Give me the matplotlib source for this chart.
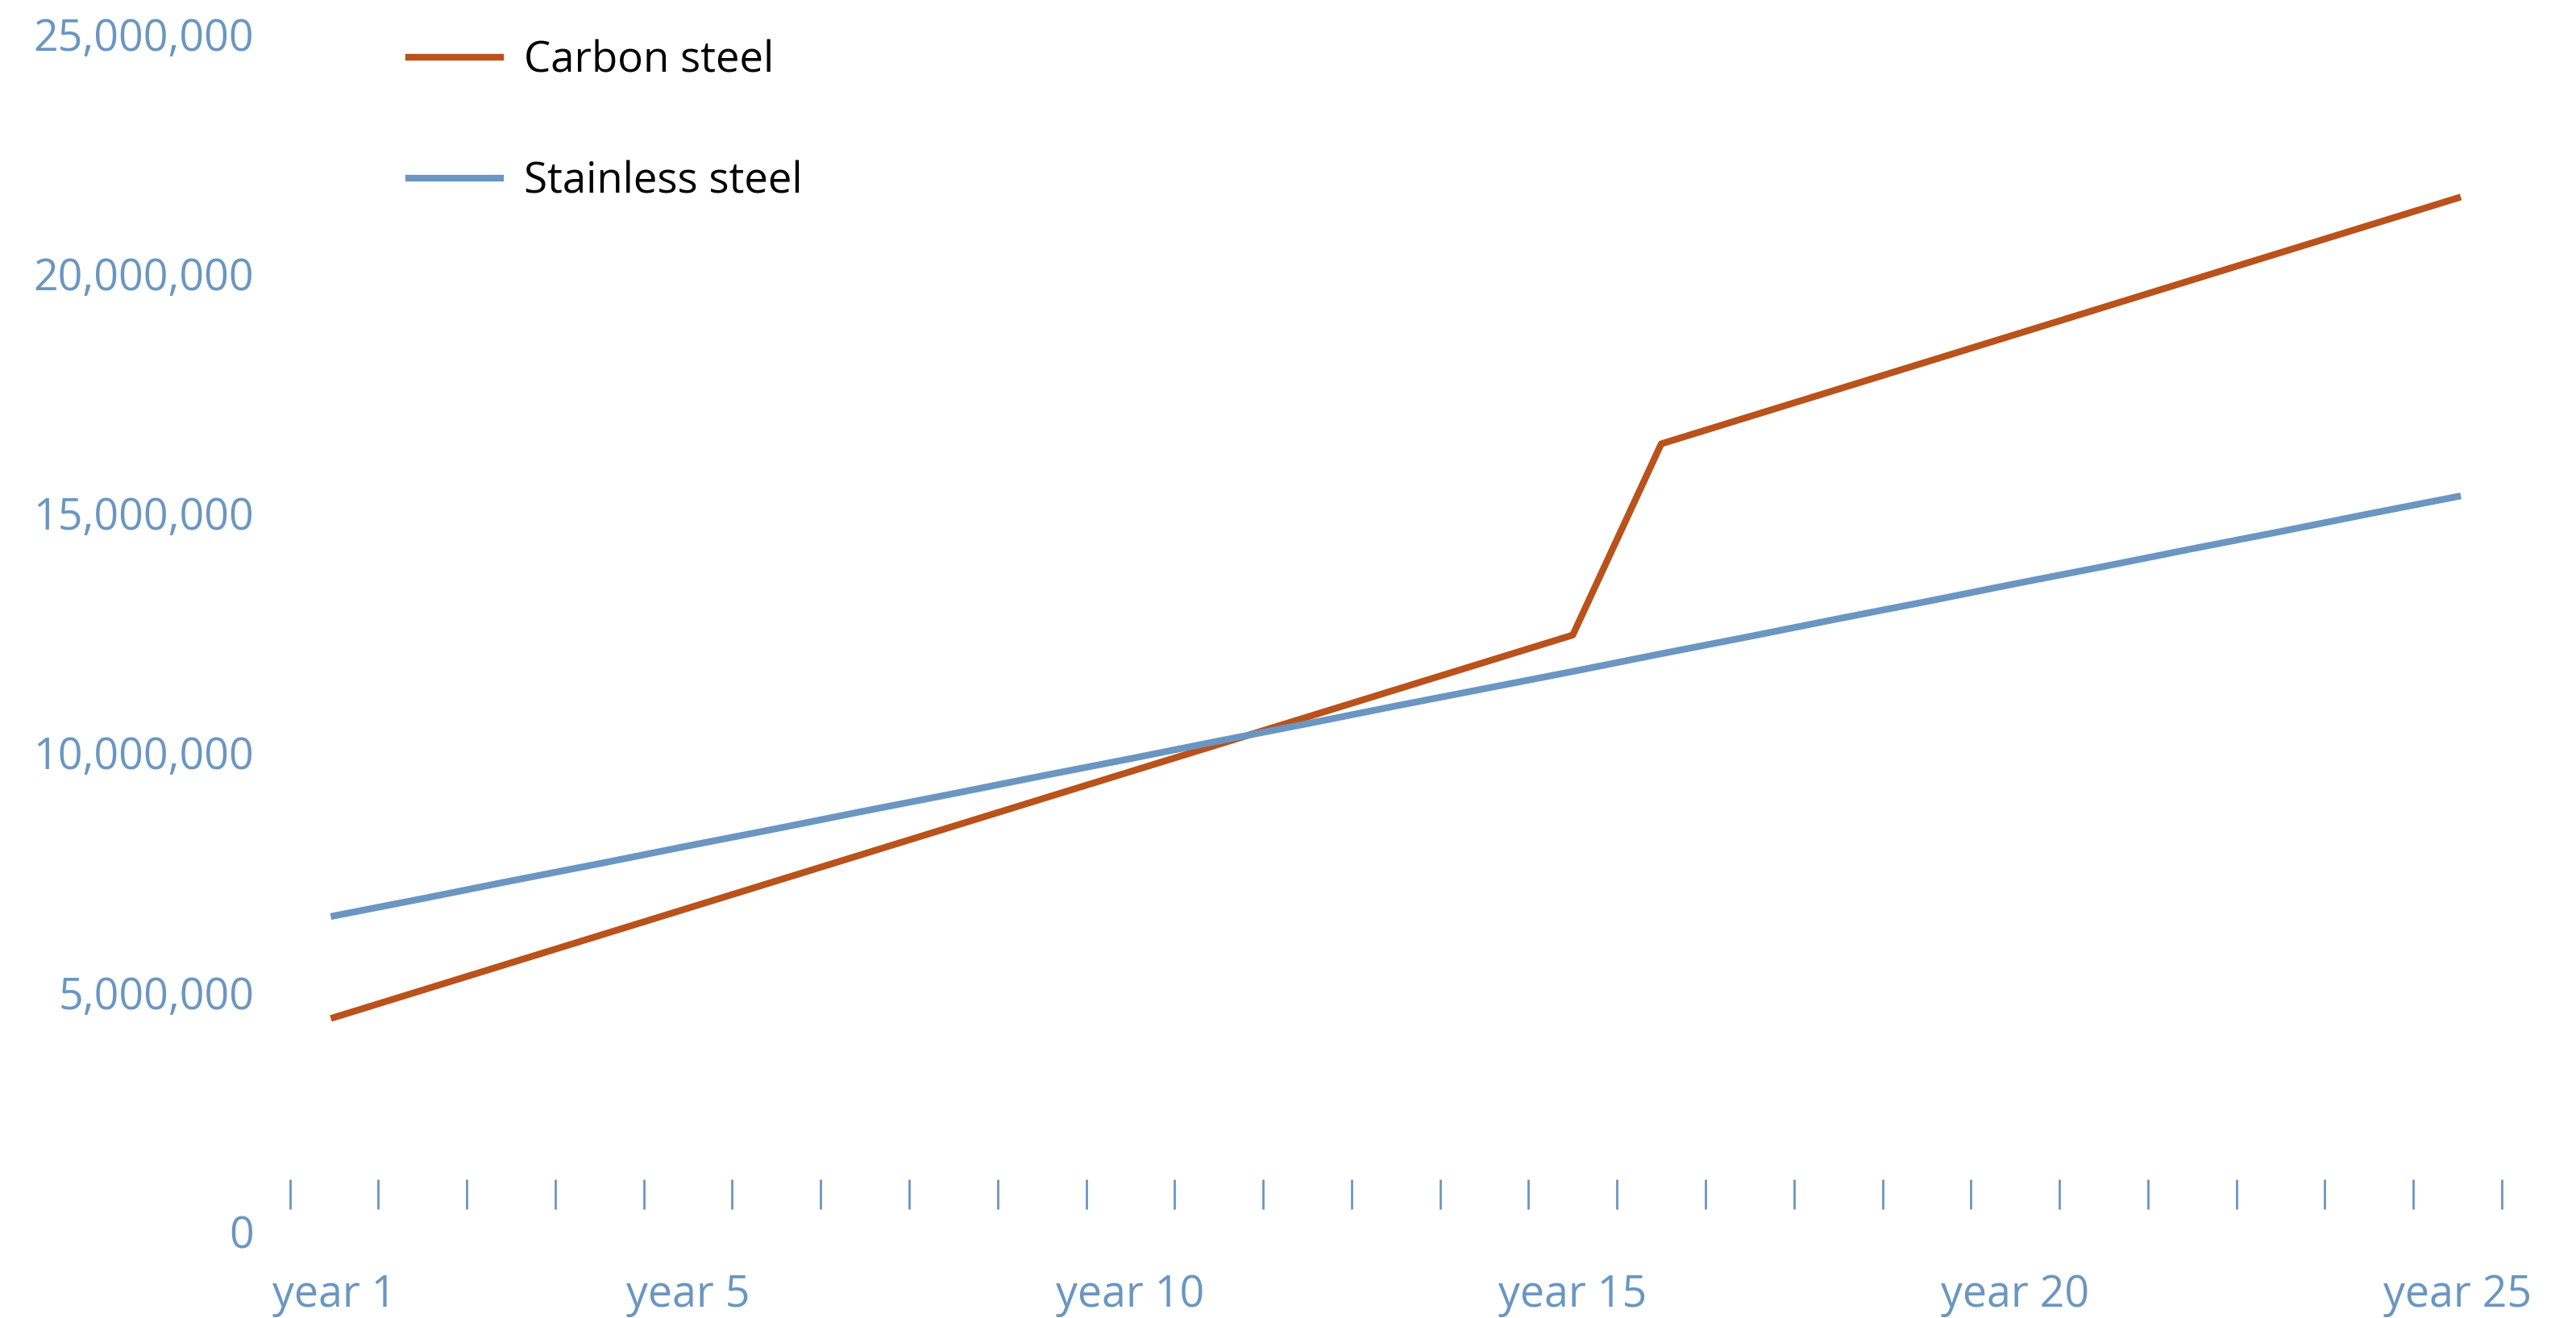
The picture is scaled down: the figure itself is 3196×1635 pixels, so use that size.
import matplotlib.pyplot as plt
from matplotlib.ticker import FuncFormatter, FixedLocator

plt.rcParams['font.family'] = ['Open Sans', 'DejaVu Sans']

# ------------------------------
# data
# ------------------------------
years = list(range(1, 26))
carbon_steel = [4470000, 5040000, 5610000, 6180000, 6750000, 7320000, 7890000,
                8460000, 9030000, 9600000, 10170000, 10740000, 11310000, 11880000,
                12450000, 16440000, 17010000, 17580000, 18150000, 18720000,
                19290000, 19860000, 20430000, 21000000, 21570000]
stainless_steel = [6590000, 6950000, 7320000, 7680000, 8050000, 8410000, 8780000,
                   9140000, 9510000, 9870000, 10240000, 10600000, 10970000,
                   11330000, 11690000, 12060000, 12420000, 12790000, 13150000,
                   13520000, 13880000, 14250000, 14610000, 14980000, 15340000]
label_years = [1, 5, 10, 15, 20, 25]
label_text = ["year 1", "year 5", "year 10", "year 15", "year 20", "year 25"]
y_ticks = [0, 5000000, 10000000, 15000000, 20000000, 25000000]

orange = "#B9521B"
blue = "#6A96C1"

fig = plt.figure(figsize=(15.98, 8.175), dpi=200)
ax = fig.add_axes([0.1125, 0.0655, 0.8587, 0.909])

ax.plot(years, carbon_steel, color=orange, lw=3, label="Carbon steel")
ax.plot(years, stainless_steel, color=blue, lw=3, label="Stainless steel")

ax.set_xlim(0.5, 25.5)
ax.set_ylim(0, 25000000)

# y axis
ax.set_yticks(y_ticks)
ax.yaxis.set_major_formatter(FuncFormatter(lambda v, p: f"{int(v):,}"))
ax.tick_params(axis="y", length=0, pad=16, labelsize=19.3, labelcolor=blue)

# x axis: boundary marks + labels at category centres
for s in ["top", "right", "left"]:
    ax.spines[s].set_visible(False)
ax.spines["bottom"].set_position(("data", 470000))
ax.spines["bottom"].set_visible(False)
ax.xaxis.set_minor_locator(FixedLocator([y + 0.5 for y in range(0, 26)]))
ax.set_xticks(label_years)
ax.set_xticklabels(label_text)
ax.tick_params(axis="x", which="major", length=0, pad=28.3, labelsize=19.3,
               labelcolor=blue)
ax.tick_params(axis="x", which="minor", direction="in", length=13.3,
               width=1, color=blue)

leg = ax.legend(loc="upper left", bbox_to_anchor=(0.1505, 0.9864),
                bbox_transform=fig.transFigure, frameon=False, fontsize=19,
                handlelength=2.15, handletextpad=0.55, labelspacing=1.83,
                borderpad=0)

fig.savefig("out.png", dpi=200)
